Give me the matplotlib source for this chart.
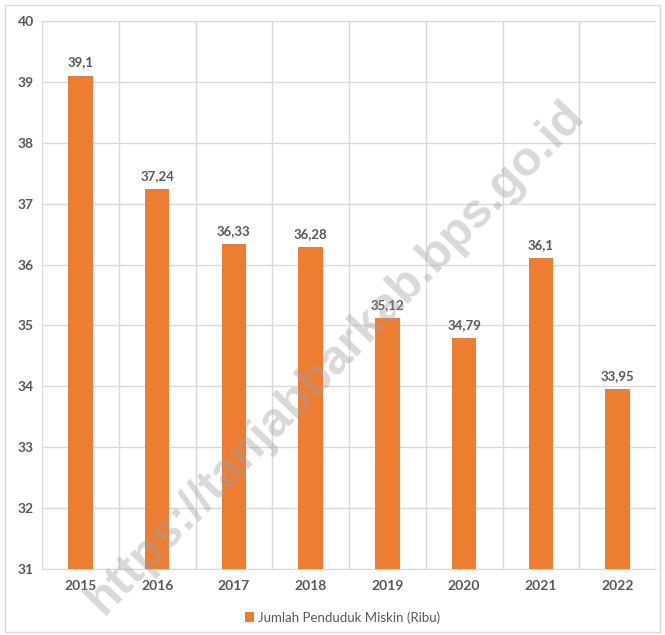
import numpy as np
import matplotlib
matplotlib.use("Agg")
import matplotlib.pyplot as plt

years = ["2015", "2016", "2017", "2018", "2019", "2020", "2021", "2022"]
miskin = [39.1, 37.24, 36.33, 36.28, 35.12, 34.79, 36.1, 33.95]
labels = ["39,1", "37,24", "36,33", "36,28", "35,12", "34,79", "36,1", "33,95"]

plt.rcParams['font.family'] = ['Lato', 'DejaVu Sans']
orange = '#ED7D31'
grey_txt = '#595959'
grid_col = '#D9D9D9'

fig = plt.figure(figsize=(6.65, 6.35), dpi=100)
ax = fig.add_axes([0.0632, 0.104, 0.9233, 0.863])

x = np.arange(len(years))
ax.bar(x, [v - 31 for v in miskin], bottom=31, width=0.32, color=orange, zorder=3,
       label='Jumlah Penduduk Miskin (Ribu)')
for xi, v, lab in zip(x, miskin, labels):
    ax.text(xi, v + 0.12, lab, ha='center', va='bottom', fontsize=9.5,
            fontweight='bold', color=grey_txt, zorder=4)

ax.set_xlim(-0.5, len(years) - 0.5)
ax.set_ylim(31, 40)
ax.set_yticks(range(31, 41))
ax.set_xticks(x)
ax.set_xticklabels(years)
ax.set_xticks(np.arange(-0.5, len(years)), minor=True)
ax.grid(True, axis='y', color=grid_col, linewidth=1, zorder=0)
ax.grid(True, axis='x', which='minor', color=grid_col, linewidth=1, zorder=0)
ax.grid(False, axis='x', which='major')
for s in ['top', 'right', 'left']:
    ax.spines[s].set_visible(False)
ax.spines['bottom'].set_color(grid_col)
ax.tick_params(axis='both', which='both', length=0)
ax.tick_params(axis='x', pad=8)
ax.tick_params(axis='y', pad=6)
for t in ax.get_xticklabels() + ax.get_yticklabels():
    t.set_fontweight('bold')
    t.set_color(grey_txt)
    t.set_fontsize(10)

ax.legend(loc='upper center', bbox_to_anchor=(0.49, -0.055), frameon=False,
          fontsize=9.5, handlelength=0.7, handleheight=0.7, handletextpad=0.3,
          labelcolor=grey_txt)

# chart border
fig.patches.append(plt.Rectangle((0.008, 0.004), 0.985, 0.988, transform=fig.transFigure,
                                 fill=False, edgecolor=grid_col, linewidth=1))

# watermark
fig.text(0.504, 0.436, "https://tanjabbarkab.bps.go.id", rotation=46, ha='center', va='center',
         fontsize=35, fontweight='bold', color='#A0A0A0', alpha=0.4, zorder=10,
         family=['Liberation Sans', 'DejaVu Sans'])

plt.savefig("out.png", dpi=100)
plt.close()
